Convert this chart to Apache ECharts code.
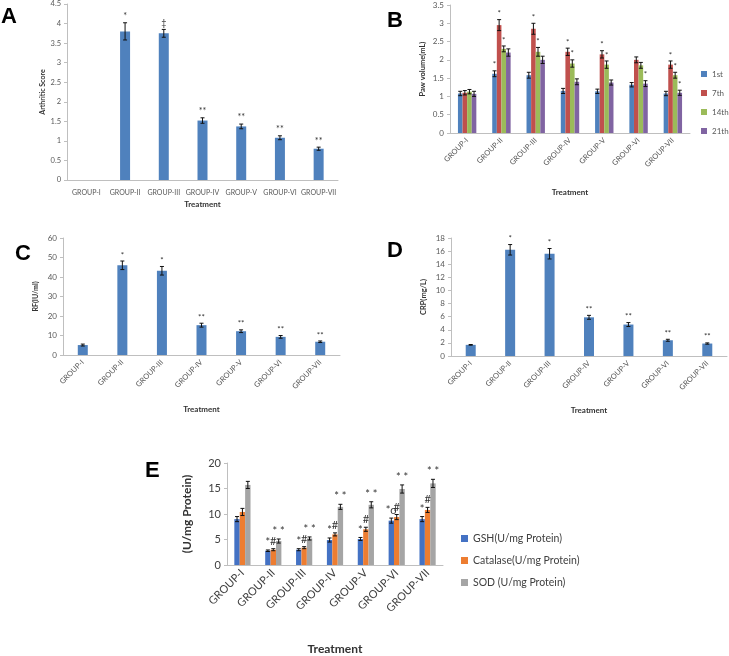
<!DOCTYPE html>
<html><head><meta charset="utf-8">
<script src="https://cdn.jsdelivr.net/npm/echarts@6/dist/echarts.min.js"></script>
<style>html,body{margin:0;padding:0;background:#fff}#c{width:729px;height:656px}</style>
</head><body><div id="c"></div>
<script>
var groups = ['GROUP-I','GROUP-II','GROUP-III','GROUP-IV','GROUP-V','GROUP-VI','GROUP-VII'];

// Panel A – Arthritic score
var scoreA = [0, 3.8, 3.75, 1.52, 1.37, 1.08, 0.8];
var errA   = [0, 0.22, 0.1, 0.07, 0.06, 0.05, 0.04];
var noteA  = ['', '*', '‡', '**', '**', '**', '**'];

// Panel B – Paw volume
var daysB   = ['1st', '7th', '14th', '21th'];
var paw1st  = [1.08, 1.62, 1.58, 1.15, 1.14, 1.32, 1.08];
var paw7th  = [1.1, 2.95, 2.85, 2.22, 2.15, 2.0, 1.87];
var paw14th = [1.13, 2.3, 2.22, 1.9, 1.87, 1.85, 1.58];
var paw21th = [1.07, 2.2, 2.0, 1.4, 1.38, 1.35, 1.1];
var err1st  = [0.06, 0.08, 0.08, 0.07, 0.06, 0.06, 0.06];
var err7th  = [0.06, 0.15, 0.15, 0.1, 0.1, 0.08, 0.1];
var err14th = [0.06, 0.08, 0.12, 0.1, 0.1, 0.08, 0.08];
var err21th = [0.07, 0.1, 0.1, 0.08, 0.07, 0.08, 0.07];
var note1st  = ['', '*', '', '', '', '', ''];
var note7th  = ['', '*', '*', '*', '*', '', '*'];
var note14th = ['', '*', '*', '*', '*', '', '*'];
var note21th = ['', '', '', '', '', '*', '*'];

// Panel C – RF
var rfC   = [5.1, 46, 43.2, 15.3, 12.2, 9.3, 6.8];
var errC  = [0.5, 2.2, 2.2, 1.0, 0.7, 0.7, 0.4];
var noteC = ['', '*', '*', '**', '**', '**', '**'];

// Panel D – CRP
var crpD  = [1.7, 16.2, 15.6, 5.9, 4.8, 2.4, 1.9];
var errD  = [0.05, 0.8, 0.8, 0.3, 0.3, 0.15, 0.1];
var noteD = ['', '*', '*', '**', '**', '**', '**'];

// Panel E – antioxidants
var namesE  = ['GSH(U/mg Protein)', 'Catalase(U/mg Protein)', 'SOD (U/mg Protein)'];
var gshE    = [9.0, 2.8, 3.0, 4.9, 5.1, 8.7, 9.0];
var catE    = [10.4, 3.0, 3.4, 6.0, 7.0, 9.4, 10.8];
var sodE    = [15.7, 4.7, 5.2, 11.4, 11.8, 14.9, 16.0];
var errGsh  = [0.5, 0.15, 0.2, 0.4, 0.3, 0.5, 0.5];
var errCat  = [0.7, 0.2, 0.2, 0.3, 0.4, 0.5, 0.5];
var errSod  = [0.7, 0.4, 0.3, 0.5, 0.6, 0.8, 0.8];
var noteGsh = ['', '*', '*', '*', '*', '*σ', '*'];
var noteCat = ['', '#', '#', '#', '#', '#', '#'];
var noteSod = ['', '* *', '* *', '* *', '* *', '* *', '* *'];

var FONT = 'Lato, "Open Sans", sans-serif';
var AX = '#bfbfbf', TX = '#595959';

function errSeries(gi, vals, errs, notes, offset, fs, nc) {
  return {
    type: 'custom', xAxisIndex: gi, yAxisIndex: gi, z: 10, silent: true,
    data: vals.map(function (v, i) { return [i, v, errs[i]]; }),
    renderItem: function (params, api) {
      var i = api.value(0), v = api.value(1), e = api.value(2);
      var t = api.coord([i, v + e]), b = api.coord([i, v - e]);
      var x = t[0] + offset, w = 2;
      var ch = [];
      if (e > 0) {
        ch.push({type: 'line', shape: {x1: x, y1: t[1], x2: x, y2: b[1]}, style: {stroke: '#111', lineWidth: 1}});
        ch.push({type: 'line', shape: {x1: x - w, y1: t[1], x2: x + w, y2: t[1]}, style: {stroke: '#111', lineWidth: 1}});
        ch.push({type: 'line', shape: {x1: x - w, y1: b[1], x2: x + w, y2: b[1]}, style: {stroke: '#111', lineWidth: 1}});
      }
      var n = notes[params.dataIndex];
      if (n) ch.push({type: 'text', x: x, y: t[1] - 2, style: {text: n, fill: nc, font: fs + 'px ' + FONT, align: 'center', verticalAlign: 'bottom'}});
      return {type: 'group', children: ch};
    }
  };
}

function xAx(gi, rot, fs, name, gap, col, margin) {
  return {
    type: 'category', gridIndex: gi, data: groups,
    axisLine: {lineStyle: {color: AX}}, axisTick: {show: false},
    axisLabel: {rotate: rot, fontSize: fs, color: col || TX, fontFamily: FONT, interval: 0, margin: margin || 6},
    name: name, nameLocation: 'middle', nameGap: gap,
    nameTextStyle: {fontWeight: 'bold', fontSize: gi === 4 ? 12 : 8, color: '#333', fontFamily: FONT}
  };
}
function yAx(gi, max, iv, name, gap, fs, nfs, col) {
  return {
    type: 'value', gridIndex: gi, min: 0, max: max, interval: iv,
    axisLine: {show: true, lineStyle: {color: AX}},
    axisTick: {show: true, length: 3, lineStyle: {color: AX}},
    splitLine: {show: false},
    axisLabel: {fontSize: fs, color: col || TX, fontFamily: FONT, margin: 6},
    name: name, nameLocation: 'middle', nameGap: gap, nameRotate: 90,
    nameTextStyle: {fontWeight: 'bold', fontSize: nfs, color: '#333', fontFamily: FONT}
  };
}

var BLUE = '#4f81bd';
var bColors = ['#4f81bd', '#c0504d', '#9bbb59', '#8064a2'];
var eColors = ['#4472c4', '#ed7d31', '#a5a5a5'];

var series = [];
series.push({type: 'bar', xAxisIndex: 0, yAxisIndex: 0, data: scoreA, barWidth: 10, itemStyle: {color: BLUE}});
series.push(errSeries(0, scoreA, errA, noteA, 0, 9, '#333'));

var bVals = [paw1st, paw7th, paw14th, paw21th];
var bErrs = [err1st, err7th, err14th, err21th];
var bNotes = [note1st, note7th, note14th, note21th];
var bw = 4.6;
bVals.forEach(function (d, k) {
  series.push({type: 'bar', name: daysB[k], xAxisIndex: 1, yAxisIndex: 1, data: d, barWidth: bw, barGap: '0%', itemStyle: {color: bColors[k]}});
});
bVals.forEach(function (d, k) {
  series.push(errSeries(1, d, bErrs[k], bNotes[k], (k - 1.5) * bw, 8, '#333'));
});

series.push({type: 'bar', xAxisIndex: 2, yAxisIndex: 2, data: rfC, barWidth: 10, itemStyle: {color: BLUE}});
series.push(errSeries(2, rfC, errC, noteC, 0, 8, '#333'));
series.push({type: 'bar', xAxisIndex: 3, yAxisIndex: 3, data: crpD, barWidth: 10, itemStyle: {color: BLUE}});
series.push(errSeries(3, crpD, errD, noteD, 0, 8, '#333'));

var eVals = [gshE, catE, sodE], eErrs = [errGsh, errCat, errSod], eNotes = [noteGsh, noteCat, noteSod];
var ew = 5.4;
eVals.forEach(function (d, k) {
  series.push({type: 'bar', name: namesE[k], xAxisIndex: 4, yAxisIndex: 4, data: d, barWidth: ew, barGap: '0%', itemStyle: {color: eColors[k]}});
});
eVals.forEach(function (d, k) {
  series.push(errSeries(4, d, eErrs[k], eNotes[k], (k - 1) * ew, 11, '#333'));
});

var letter = function (t, x, y) {
  return {type: 'text', left: x, top: y, style: {text: t, font: 'bold 22px "Liberation Sans", Arial, sans-serif', fill: '#000'}};
};

var chart = echarts.init(document.getElementById('c'), null, {renderer: 'canvas'});
chart.setOption({
  animation: false,
  textStyle: {fontFamily: FONT},
  grid: [
    {left: 67, top: 4, width: 271, height: 176},
    {left: 450, top: 5, width: 240, height: 128},
    {left: 63, top: 238, width: 277, height: 117},
    {left: 451, top: 238, width: 276, height: 118},
    {left: 227, top: 463, width: 216, height: 110}
  ],
  xAxis: [
    xAx(0, 0, 7, 'Treatment', 20, TX, 9),
    xAx(1, 45, 7.5, 'Treatment', 55),
    xAx(2, 45, 7.5, 'Treatment', 50),
    xAx(3, 45, 7.5, 'Treatment', 50),
    xAx(4, 45, 11, 'Treatment', 78, '#404040')
  ],
  yAxis: [
    yAx(0, 4.5, 0.5, 'Arthritic Score', 20, 7.5, 7),
    yAx(1, 3.5, 0.5, 'Paw volume(mL)', 23, 8, 7.5),
    yAx(2, 60, 10, 'RF(IU/ml)', 24, 8, 7),
    yAx(3, 18, 2, 'CRP(mg/L)', 23, 8, 7.5),
    yAx(4, 20, 5, '(U/mg Protein)', 34, 11, 12, '#404040')
  ],
  legend: [
    {data: daysB, orient: 'vertical', left: 701, top: 70, padding: 0, itemWidth: 6, itemHeight: 6, itemGap: 11, icon: 'rect',
     textStyle: {fontSize: 8, color: TX, fontFamily: FONT}},
    {data: namesE, orient: 'vertical', left: 461, top: 533, padding: 0, itemWidth: 7, itemHeight: 7, itemGap: 11, icon: 'rect',
     textStyle: {fontSize: 10.5, color: '#404040', fontFamily: FONT}}
  ],
  graphic: [letter('A', 1, 6), letter('B', 387, 10), letter('C', 15, 243), letter('D', 387, 240), letter('E', 145, 460)],
  series: series
});
</script>
</body></html>
